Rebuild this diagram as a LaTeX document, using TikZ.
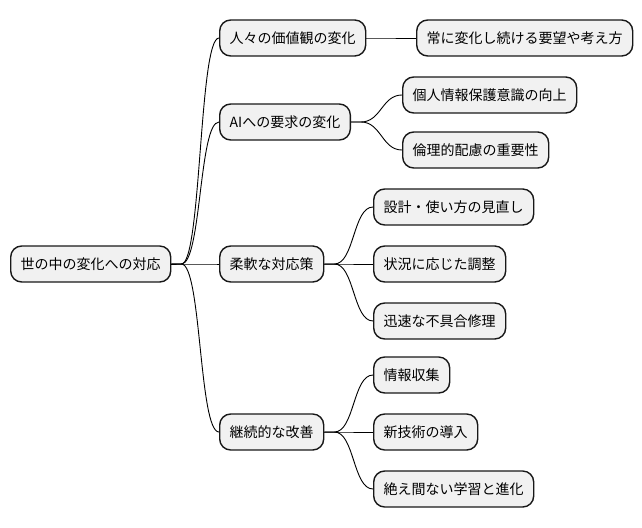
\documentclass[tikz,border=0pt]{standalone}
\usepackage{fontspec}
\setmainfont{Noto Sans CJK JP}
\definecolor{boxfill}{HTML}{F1F1F1}
\definecolor{boxline}{HTML}{181818}
\tikzset{
  mm/.style={draw=boxline, fill=boxfill, line width=1.4pt, rounded corners=11pt,
    minimum height=36pt, inner xsep=10pt, inner ysep=0pt, anchor=west,
    font=\fontsize{14pt}{16pt}\selectfont, text=black},
  link/.style={draw=black, line width=0.9pt}
}
\newcommand{\mmlink}[2]{\draw[link] (#1.east) -- ++(10,0) .. controls +(20,0) and +(-20,0) .. (#2.west);}
\begin{document}
\begin{tikzpicture}[x=1pt,y=-1pt]
\useasboundingbox (0,0) rectangle (642,527);
\node[mm] (root) at (10,264) {世の中の変化への対応};
\node[mm] (a) at (219,38) {人々の価値観の変化};
\node[mm] (b) at (219,122) {AIへの要求の変化};
\node[mm] (c) at (219,264) {柔軟な対応策};
\node[mm] (d) at (219,432) {継続的な改善};
\node[mm] (a1) at (416,38) {常に変化し続ける要望や考え方};
\node[mm] (b1) at (402,95) {個人情報保護意識の向上};
\node[mm] (b2) at (402,150) {倫理的配慮の重要性};
\node[mm] (c1) at (373,207) {設計・使い方の見直し};
\node[mm] (c2) at (373,264) {状況に応じた調整};
\node[mm] (c3) at (373,321) {迅速な不具合修理};
\node[mm] (d1) at (373,375) {情報収集};
\node[mm] (d2) at (373,432) {新技術の導入};
\node[mm] (d3) at (373,489) {絶え間ない学習と進化};
\mmlink{root}{a}
\mmlink{root}{b}
\mmlink{root}{c}
\mmlink{root}{d}
\mmlink{a}{a1}
\mmlink{b}{b1}
\mmlink{b}{b2}
\mmlink{c}{c1}
\mmlink{c}{c2}
\mmlink{c}{c3}
\mmlink{d}{d1}
\mmlink{d}{d2}
\mmlink{d}{d3}
\end{tikzpicture}
\end{document}
